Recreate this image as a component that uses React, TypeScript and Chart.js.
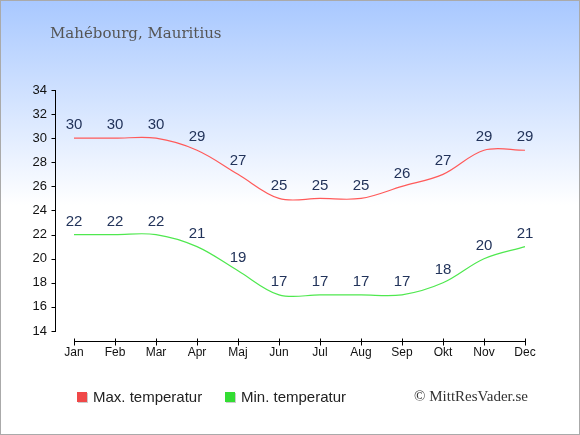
import { useEffect, useRef } from 'react';
import { Chart, registerables, Plugin } from 'chart.js';

Chart.register(...registerables);

const months = ['Jan', 'Feb', 'Mar', 'Apr', 'Maj', 'Jun', 'Jul', 'Aug', 'Sep', 'Okt', 'Nov', 'Dec'];
const maxTemp = [30, 30, 30, 29, 27, 25, 25, 25, 26, 27, 29, 29];
const minTemp = [22, 22, 22, 21, 19, 17, 17, 17, 17, 18, 20, 21];
const yTicks = [14, 16, 18, 20, 22, 24, 26, 28, 30, 32, 34];
const seriesNames = ['Max. temperatur', 'Min. temperatur'];
const lineColors = ['#ff5a5a', '#4fe84f'];
const legendColors = ['#f04848', '#33dd33'];

const LABEL_FONT = '"Liberation Sans", Arial, sans-serif';

// axis lines drawn apart from each other, like the original
const axesPlugin: Plugin<'line'> = {
  id: 'axes',
  afterDraw(chart) {
    const { ctx, chartArea, scales } = chart;
    const x = scales.x;
    const y = scales.y;
    ctx.save();
    ctx.strokeStyle = '#000';
    ctx.lineWidth = 1;
    const ax = Math.round(chartArea.left - 19) + 0.5;
    const yTop = y.getPixelForValue(yTicks[yTicks.length - 1]);
    const yBot = y.getPixelForValue(yTicks[0]);
    ctx.beginPath();
    ctx.moveTo(ax, Math.round(yTop));
    ctx.lineTo(ax, Math.round(yBot) + 1);
    yTicks.forEach((v) => {
      const py = Math.round(y.getPixelForValue(v)) + 0.5;
      ctx.moveTo(ax - 4, py);
      ctx.lineTo(ax, py);
    });
    const by = Math.round(chartArea.bottom) + 0.5;
    ctx.moveTo(x.getPixelForValue(0), by);
    ctx.lineTo(x.getPixelForValue(months.length - 1) + 1, by);
    months.forEach((_, i) => {
      const px = Math.round(x.getPixelForValue(i)) + 0.5;
      ctx.moveTo(px, by - 3);
      ctx.lineTo(px, by + 4);
    });
    ctx.stroke();
    ctx.restore();
  }
};

const valueLabels: Plugin<'line'> = {
  id: 'valueLabels',
  afterDatasetsDraw(chart) {
    const { ctx } = chart;
    ctx.save();
    ctx.font = `15px ${LABEL_FONT}`;
    ctx.fillStyle = '#22335a';
    ctx.textAlign = 'center';
    ctx.textBaseline = 'middle';
    chart.data.datasets.forEach((ds, di) => {
      const meta = chart.getDatasetMeta(di);
      meta.data.forEach((pt, i) => {
        ctx.fillText(String(ds.data[i]), pt.x, pt.y - 13);
      });
    });
    ctx.restore();
  }
};

export default function App() {
  const canvasRef = useRef<HTMLCanvasElement | null>(null);
  const chartRef = useRef<Chart<'line'> | null>(null);

  useEffect(() => {
    document.body.style.margin = '0';
    if (!canvasRef.current) return;
    if (chartRef.current) chartRef.current.destroy();

    chartRef.current = new Chart(canvasRef.current, {
      type: 'line',
      data: {
        labels: months,
        datasets: [
          {
            label: seriesNames[0],
            data: maxTemp,
            borderColor: lineColors[0],
            borderWidth: 1.2,
            tension: 0.35,
            pointRadius: 0,
            fill: false
          },
          {
            label: seriesNames[1],
            data: minTemp,
            borderColor: lineColors[1],
            borderWidth: 1.2,
            tension: 0.35,
            pointRadius: 0,
            fill: false
          }
        ]
      },
      options: {
        animation: false,
        responsive: false,
        devicePixelRatio: 1,
        layout: { padding: { left: 0, right: 55, top: 90, bottom: 64 } },
        plugins: {
          legend: { display: false },
          tooltip: { enabled: false },
          title: { display: false }
        },
        scales: {
          x: {
            offset: false,
            grid: { display: false, drawTicks: false },
            border: { display: false },
            afterFit: (s) => {
              s.height = 30;
            },
            ticks: {
              padding: 4,
              color: '#111',
              font: { family: LABEL_FONT, size: 12 },
              maxRotation: 0,
              autoSkip: false
            }
          },
          y: {
            min: 13.17,
            max: 34,
            grid: { display: false, drawTicks: false },
            border: { display: false },
            afterBuildTicks: (s) => {
              s.ticks = yTicks.map((v) => ({ value: v }));
            },
            afterFit: (s) => {
              s.width = 74;
            },
            ticks: {
              padding: 27,
              color: '#111',
              font: { family: LABEL_FONT, size: 13 }
            }
          }
        }
      },
      plugins: [axesPlugin, valueLabels]
    });

    return () => {
      if (chartRef.current) {
        chartRef.current.destroy();
        chartRef.current = null;
      }
    };
  }, []);

  return (
    <div
      style={{
        position: 'relative',
        width: 580,
        height: 435,
        background: 'linear-gradient(to bottom, #a8c8ff 0px, #ffffff 205px, #ffffff 435px)',
        overflow: 'hidden'
      }}
    >
      <canvas
        ref={canvasRef}
        width={580}
        height={435}
        style={{ position: 'absolute', left: 0, top: 0 }}
      />
      <div
        style={{
          position: 'absolute',
          left: 50,
          top: 24,
          font: '15px "DejaVu Serif", serif',
          color: '#555',
          whiteSpace: 'nowrap'
        }}
      >
        Mahébourg, Mauritius
      </div>
      {seriesNames.map((name, i) => (
        <div
          key={name}
          style={{
            position: 'absolute',
            left: i === 0 ? 77 : 225,
            top: 388,
            font: `15px ${LABEL_FONT}`,
            color: '#222',
            whiteSpace: 'nowrap',
            display: 'flex',
            alignItems: 'center'
          }}
        >
          <span
            style={{
              display: 'inline-block',
              width: 10,
              height: 10,
              background: legendColors[i],
              marginRight: 6,
              boxShadow: '1px 1px 0 #ccc'
            }}
          />
          {name}
        </div>
      ))}
      <div
        style={{
          position: 'absolute',
          right: 52,
          top: 388,
          font: '15px "Liberation Serif", serif',
          color: '#333',
          whiteSpace: 'nowrap'
        }}
      >
        © MittResVader.se
      </div>
      <div
        style={{
          position: 'absolute',
          inset: 0,
          border: '1px solid #aaa',
          boxSizing: 'border-box',
          pointerEvents: 'none'
        }}
      />
    </div>
  );
}
